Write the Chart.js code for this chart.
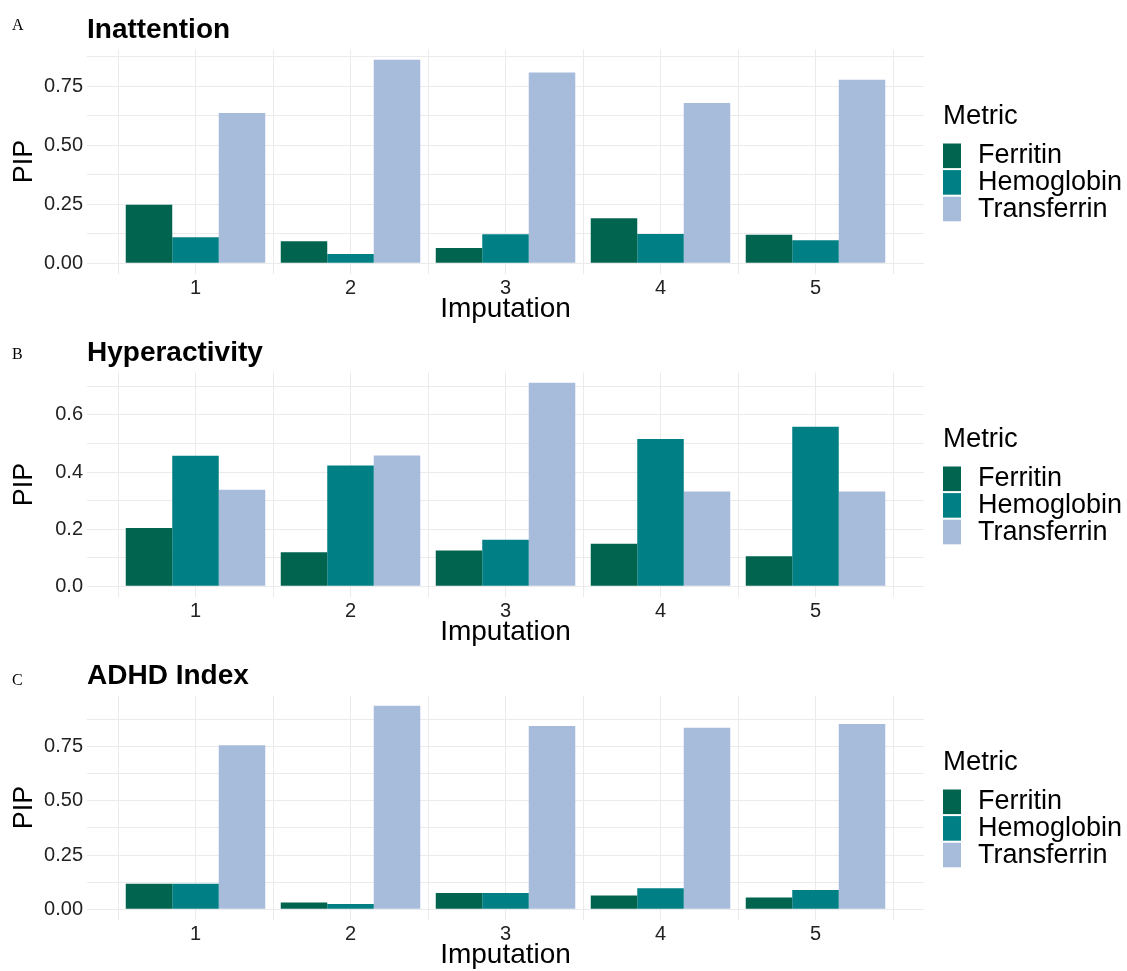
<!DOCTYPE html>
<html>
<head>
<meta charset="utf-8">
<script src="https://cdn.jsdelivr.net/npm/chart.js@4/dist/chart.umd.min.js"></script>
<style>
  html, body { margin: 0; padding: 0; background: #ffffff; }
  #figure { position: relative; width: 1127px; height: 971px; overflow: hidden; background: #ffffff; }
  #figure canvas { position: absolute; left: 0; }
</style>
</head>
<body>
<div id="figure">
  <canvas id="panelA" width="1127" height="323" style="top:0px"></canvas>
  <canvas id="panelB" width="1127" height="323" style="top:323px"></canvas>
  <canvas id="panelC" width="1127" height="323" style="top:646px"></canvas>
</div>
<script>
// Imputation runs on the x axis
const imputations = [1, 2, 3, 4, 5];
const metrics = ['Ferritin', 'Hemoglobin', 'Transferrin'];
const metricColors = ['#00644F', '#007F85', '#A7BCDB'];

// Posterior inclusion probabilities, Inattention
const inattentionFerritin    = [0.248, 0.093, 0.065, 0.191, 0.121];
const inattentionHemoglobin  = [0.110, 0.040, 0.123, 0.124, 0.098];
const inattentionTransferrin = [0.637, 0.863, 0.809, 0.679, 0.778];

// Posterior inclusion probabilities, Hyperactivity
const hyperactivityFerritin    = [0.204, 0.119, 0.125, 0.149, 0.105];
const hyperactivityHemoglobin  = [0.457, 0.423, 0.163, 0.516, 0.559];
const hyperactivityTransferrin = [0.338, 0.458, 0.713, 0.332, 0.332];

// Posterior inclusion probabilities, ADHD Index
const adhdFerritin    = [0.118, 0.032, 0.075, 0.064, 0.055];
const adhdHemoglobin  = [0.118, 0.024, 0.075, 0.097, 0.089];
const adhdTransferrin = [0.757, 0.939, 0.845, 0.837, 0.854];

// Labelled y ticks for each panel
const inattentionTicks   = ['0.00', '0.25', '0.50', '0.75'];
const hyperactivityTicks = ['0.0', '0.2', '0.4', '0.6'];
const adhdTicks          = ['0.00', '0.25', '0.50', '0.75'];

const FONT = '"Liberation Sans", Arial, Helvetica, sans-serif';
const SERIF = '"Liberation Serif", "Times New Roman", serif';
const GRID = '#EBEBEB';

// Legend drawn to the right of each panel from the datasets
const metricLegend = {
  id: 'metricLegend',
  afterDraw(chart) {
    const ctx = chart.ctx;
    ctx.save();
    ctx.textAlign = 'left';
    ctx.textBaseline = 'middle';
    ctx.font = '27.5px ' + FONT;
    ctx.fillStyle = '#000000';
    ctx.fillText('Metric', 943, 116);
    ctx.font = '27px ' + FONT;
    chart.data.datasets.forEach((ds, i) => {
      const top = 143.5 + i * 26.6;
      ctx.fillStyle = ds.backgroundColor;
      ctx.fillRect(943, top, 18, 24.6);
      ctx.fillStyle = '#000000';
      ctx.fillText(ds.label, 978, top + 12.5);
    });
    ctx.restore();
  }
};

// Panel letter in the upper-left corner
const panelLetter = {
  id: 'panelLetter',
  afterDraw(chart, args, opts) {
    const ctx = chart.ctx;
    ctx.save();
    ctx.font = '16px ' + SERIF;
    ctx.fillStyle = '#000000';
    ctx.textAlign = 'left';
    ctx.textBaseline = 'alphabetic';
    ctx.fillText(opts.text, 12, opts.baseline);
    ctx.restore();
  }
};

function makePanel(canvasId, letter, letterBaseline, titleText, series, tickLabels) {
  const values = series.flat();
  const peak = Math.max(...values);
  const yMin = -0.05 * peak;
  const yMax = 1.05 * peak;
  const majors = tickLabels.map(Number);
  const step = majors[1] - majors[0];
  const decimals = tickLabels[0].split('.')[1].length;

  return new Chart(document.getElementById(canvasId), {
    type: 'bar',
    data: {
      datasets: metrics.map((m, i) => ({
        label: m,
        data: imputations.map((imp, j) => ({ x: imp, y: series[i][j] })),
        backgroundColor: metricColors[i],
        borderWidth: 0,
        // the x ticks sit every half imputation, so the ruler spacing is half a
        // category: 1.8 of it is a group filling 90% of one imputation
        categoryPercentage: 1.8,
        barPercentage: 1.0
      }))
    },
    options: {
      responsive: false,
      animation: false,
      devicePixelRatio: 1,
      layout: { padding: { left: 0, right: 203, top: 0, bottom: 0 } },
      plugins: {
        legend: { display: false },
        tooltip: { enabled: false },
        title: {
          display: true,
          text: titleText,
          align: 'start',
          fullSize: false,
          color: '#000000',
          font: { family: FONT, size: 28, weight: 'bold', lineHeight: 1.2 },
          padding: { top: 13, bottom: 2.9 }
        },
        panelLetter: { text: letter, baseline: letterBaseline }
      },
      scales: {
        x: {
          type: 'linear',
          min: 0.3,
          max: 5.7,
          offset: false,
          border: { display: false },
          grid: { color: GRID, lineWidth: 1, drawTicks: false, offset: false },
          afterBuildTicks: (scale) => {
            const t = [];
            for (let v = 0.5; v <= 5.5 + 1e-9; v += 0.5) t.push({ value: v });
            scale.ticks = t;
          },
          afterFit: (scale) => { scale.height = 49.5; },
          ticks: {
            autoSkip: false,
            maxRotation: 0,
            minRotation: 0,
            padding: 2.5,
            color: '#222222',
            font: { family: FONT, size: 20, lineHeight: 1.2 },
            callback: (v) => (imputations.includes(v) ? String(v) : '')
          },
          title: {
            display: true,
            text: 'Imputation',
            color: '#000000',
            font: { family: FONT, size: 28, lineHeight: 1.0 },
            padding: { top: 0, bottom: 0 }
          }
        },
        y: {
          type: 'linear',
          min: yMin,
          max: yMax,
          border: { display: false },
          grid: { color: GRID, lineWidth: 1, drawTicks: false },
          afterBuildTicks: (scale) => {
            const t = [];
            for (let k = Math.ceil(yMin / (step / 2)); k * step / 2 <= yMax; k++) {
              t.push({ value: k * step / 2 });
            }
            scale.ticks = t;
          },
          afterFit: (scale) => { scale.width = 87; },
          ticks: {
            autoSkip: false,
            padding: 4,
            color: '#222222',
            font: { family: FONT, size: 20, lineHeight: 1.2 },
            callback: (v) => {
              const r = v / step;
              return Math.abs(r - Math.round(r)) < 1e-6 && v >= 0 ? v.toFixed(decimals) : '';
            }
          },
          title: {
            display: true,
            text: 'PIP',
            color: '#000000',
            font: { family: FONT, size: 27, lineHeight: 1.0 },
            padding: { top: 10.7, bottom: 0 }
          }
        }
      }
    },
    plugins: [metricLegend, panelLetter]
  });
}

makePanel('panelA', 'A', 29.5, 'Inattention',
  [inattentionFerritin, inattentionHemoglobin, inattentionTransferrin], inattentionTicks);
makePanel('panelB', 'B', 35.5, 'Hyperactivity',
  [hyperactivityFerritin, hyperactivityHemoglobin, hyperactivityTransferrin], hyperactivityTicks);
makePanel('panelC', 'C', 39, 'ADHD Index',
  [adhdFerritin, adhdHemoglobin, adhdTransferrin], adhdTicks);
</script>
</body>
</html>
